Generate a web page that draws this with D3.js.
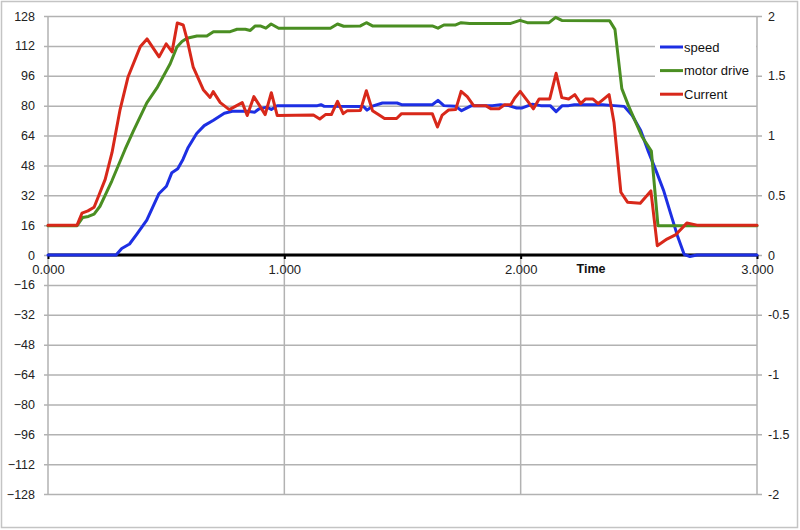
<!DOCTYPE html>
<html>
<head>
<meta charset="utf-8">
<script src="https://cdn.jsdelivr.net/npm/d3@7"></script>
<style>
  html, body { margin: 0; padding: 0; background: #fff; }
  svg { display: block; font-family: "Liberation Sans", Arial, Helvetica, sans-serif; }
</style>
</head>
<body>
<svg id="chart" width="800" height="530"></svg>
<script>
// ---- data ----
const leftTicks = [-128, -112, -96, -80, -64, -48, -32, -16, 0, 16, 32, 48, 64, 80, 96, 112, 128];
const rightTicks = [-2, -1.5, -1, -0.5, 0, 0.5, 1, 1.5, 2];
const xTicks = [0, 1, 2, 3];
const seriesNames = ["speed", "motor drive", "Current"];

// speed (left axis)
const speedT = [0, 0.288, 0.312, 0.345, 0.376, 0.418, 0.469, 0.501, 0.524, 0.549, 0.571, 0.593, 0.629, 0.661, 0.700, 0.746, 0.780, 0.843, 0.875, 0.892, 0.926, 0.945, 0.970, 1.140, 1.155, 1.169, 1.335, 1.350, 1.373, 1.415, 1.477, 1.496, 1.626, 1.650, 1.675, 1.725, 1.750, 1.792, 1.881, 1.915, 1.949, 1.983, 2.004, 2.050, 2.085, 2.125, 2.150, 2.176, 2.203, 2.227, 2.347, 2.395, 2.438, 2.472, 2.508, 2.540, 2.576, 2.606, 2.633, 2.664, 2.692, 2.716, 2.746, 3.0];
const speedV = [0, 0, 3.5, 5.9, 11.2, 18.7, 32.8, 36.8, 44.1, 46.2, 51.2, 57.6, 65.1, 69.3, 72.2, 75.9, 77.0, 77.0, 76.5, 78.2, 79.2, 77.9, 80, 80, 80.5, 79.6, 79.5, 77.6, 79.7, 81.4, 81.4, 80.5, 80.5, 82.8, 80, 79.6, 77.3, 80, 80, 80.5, 80, 78.7, 78.7, 80.8, 80, 80, 76.8, 80, 80, 80.5, 80.5, 80, 79.6, 74.7, 66.7, 55.5, 44.1, 34.1, 22.8, 10.1, 0.3, -0.8, 0, 0];

// motor drive (right axis)
const driveT = [0, 0.123, 0.147, 0.171, 0.195, 0.220, 0.270, 0.326, 0.361, 0.418, 0.461, 0.517, 0.545, 0.567, 0.588, 0.630, 0.672, 0.700, 0.771, 0.800, 0.835, 0.856, 0.877, 0.898, 0.922, 0.944, 0.976, 1.195, 1.225, 1.251, 1.322, 1.347, 1.373, 1.626, 1.650, 1.675, 1.725, 1.748, 1.784, 1.958, 1.997, 2.028, 2.120, 2.148, 2.174, 2.376, 2.399, 2.428, 2.456, 2.513, 2.553, 2.581, 3.0];
const driveV = [0.245, 0.245, 0.314, 0.323, 0.342, 0.408, 0.619, 0.883, 1.036, 1.273, 1.398, 1.600, 1.738, 1.786, 1.814, 1.833, 1.833, 1.869, 1.869, 1.889, 1.889, 1.879, 1.917, 1.917, 1.898, 1.933, 1.898, 1.898, 1.933, 1.914, 1.917, 1.944, 1.917, 1.917, 1.898, 1.925, 1.925, 1.944, 1.938, 1.938, 1.963, 1.944, 1.944, 1.989, 1.963, 1.961, 1.888, 1.392, 1.250, 0.992, 0.869, 0.245, 0.245];

// Current (right axis)
const currentT = [0, 0.123, 0.144, 0.169, 0.195, 0.212, 0.242, 0.271, 0.305, 0.339, 0.390, 0.419, 0.470, 0.500, 0.525, 0.547, 0.572, 0.589, 0.614, 0.657, 0.686, 0.699, 0.729, 0.767, 0.822, 0.843, 0.871, 0.898, 0.919, 0.945, 0.970, 1.123, 1.150, 1.174, 1.199, 1.225, 1.249, 1.267, 1.322, 1.347, 1.373, 1.398, 1.424, 1.475, 1.496, 1.626, 1.648, 1.668, 1.695, 1.725, 1.748, 1.774, 1.801, 1.852, 1.875, 1.908, 1.932, 1.958, 1.975, 1.998, 2.028, 2.054, 2.078, 2.123, 2.150, 2.174, 2.203, 2.229, 2.254, 2.275, 2.305, 2.328, 2.374, 2.395, 2.424, 2.452, 2.506, 2.551, 2.578, 2.619, 2.657, 2.703, 2.746, 3.0];
const currentV = [0.25, 0.25, 0.35, 0.369, 0.40, 0.483, 0.633, 0.858, 1.217, 1.492, 1.742, 1.808, 1.658, 1.767, 1.70, 1.942, 1.925, 1.80, 1.575, 1.383, 1.319, 1.367, 1.275, 1.217, 1.275, 1.167, 1.325, 1.242, 1.175, 1.358, 1.167, 1.172, 1.138, 1.175, 1.175, 1.286, 1.183, 1.208, 1.21, 1.375, 1.208, 1.175, 1.142, 1.142, 1.183, 1.183, 1.071, 1.171, 1.213, 1.217, 1.369, 1.325, 1.25, 1.25, 1.223, 1.223, 1.258, 1.258, 1.314, 1.369, 1.292, 1.223, 1.306, 1.306, 1.521, 1.317, 1.306, 1.342, 1.267, 1.306, 1.306, 1.267, 1.342, 1.108, 0.525, 0.442, 0.433, 0.536, 0.078, 0.133, 0.171, 0.267, 0.25, 0.25];

const colors = ["#1d2fe3", "#4a8e22", "#d8281a"];

// ---- layout ----
const svg = d3.select("#chart");
const L = 48, R = 757, T = 16, B = 494;
const x = d3.scaleLinear().domain([0, 3]).range([L, R]);
const yL = d3.scaleLinear().domain([-128, 128]).range([B, T]);
const yR = d3.scaleLinear().domain([-2, 2]).range([B, T]);
const grid = "#b2b2b2";

// outer frame
svg.append("rect").attr("x", 1.5).attr("y", 1.5).attr("width", 796).attr("height", 526)
  .attr("fill", "#fff").attr("stroke", "#c4c4c4").attr("stroke-width", 1.5);

// horizontal grid + left axis
const gL = svg.append("g").attr("transform", `translate(${L},0)`)
  .call(d3.axisLeft(yL).tickValues(leftTicks).tickSize(-(R - L)).tickPadding(13).tickFormat(d3.format("d")));
gL.select(".domain").remove();
gL.selectAll(".tick line").attr("stroke", grid).attr("stroke-width", 1.5).attr("x1", -4);
gL.selectAll(".tick text").attr("font-size", 12.5).attr("fill", "#222").attr("font-family", "Liberation Sans, Arial, sans-serif");

// vertical grid
svg.append("g").selectAll("line").data(xTicks).join("line")
  .attr("x1", d => x(d)).attr("x2", d => x(d)).attr("y1", T).attr("y2", B)
  .attr("stroke", grid).attr("stroke-width", 1.5);

// right axis
const gR = svg.append("g").attr("transform", `translate(${R},0)`)
  .call(d3.axisRight(yR).tickValues(rightTicks).tickSize(5).tickPadding(6).tickFormat(d => String(d)));
gR.select(".domain").remove();
gR.selectAll(".tick line").attr("stroke", grid).attr("stroke-width", 1.5);
gR.selectAll(".tick text").attr("font-size", 12.5).attr("fill", "#222").attr("font-family", "Liberation Sans, Arial, sans-serif");

// legend background (covers grid)
svg.append("rect").attr("x", 655).attr("y", 34).attr("width", R - 655 - 1).attr("height", 69).attr("fill", "#fff");

// x axis at zero
const gX = svg.append("g").attr("transform", `translate(0,${yL(0)})`)
  .call(d3.axisBottom(x).tickValues(xTicks).tickSize(4).tickPadding(6).tickFormat(d3.format(".3f")));
gX.select(".domain").attr("stroke", "#000").attr("stroke-width", 3).attr("d", `M${L},0H${R}`);
gX.selectAll(".tick line").attr("stroke", "#000").attr("stroke-width", 2);
gX.selectAll(".tick text").attr("font-size", 13).attr("fill", "#222").attr("font-family", "Liberation Sans, Arial, sans-serif");

svg.append("text").attr("x", 591).attr("y", 273).attr("text-anchor", "middle")
  .attr("font-size", 12.5).attr("font-weight", "bold").attr("fill", "#111").text("Time");

// series
const series = [
  { t: speedT, v: speedV, y: yL },
  { t: driveT, v: driveV, y: yR },
  { t: currentT, v: currentV, y: yR }
];
series.forEach((s, i) => {
  const pts = s.t.map((t, j) => [t, s.v[j]]);
  svg.append("path").datum(pts)
    .attr("fill", "none").attr("stroke", colors[i]).attr("stroke-width", 3)
    .attr("stroke-linejoin", "round").attr("stroke-linecap", "round")
    .attr("d", d3.line().x(d => x(d[0])).y(d => s.y(d[1])));
});

// legend
const lg = svg.append("g");
seriesNames.forEach((name, i) => {
  const yy = 47 + i * 23.6;
  lg.append("line").attr("x1", 660).attr("x2", 683).attr("y1", yy).attr("y2", yy)
    .attr("stroke", colors[i]).attr("stroke-width", 3);
  lg.append("text").attr("x", 684).attr("y", yy + 4.5).attr("font-size", 13).attr("fill", "#111").text(name);
});
</script>
</body>
</html>
